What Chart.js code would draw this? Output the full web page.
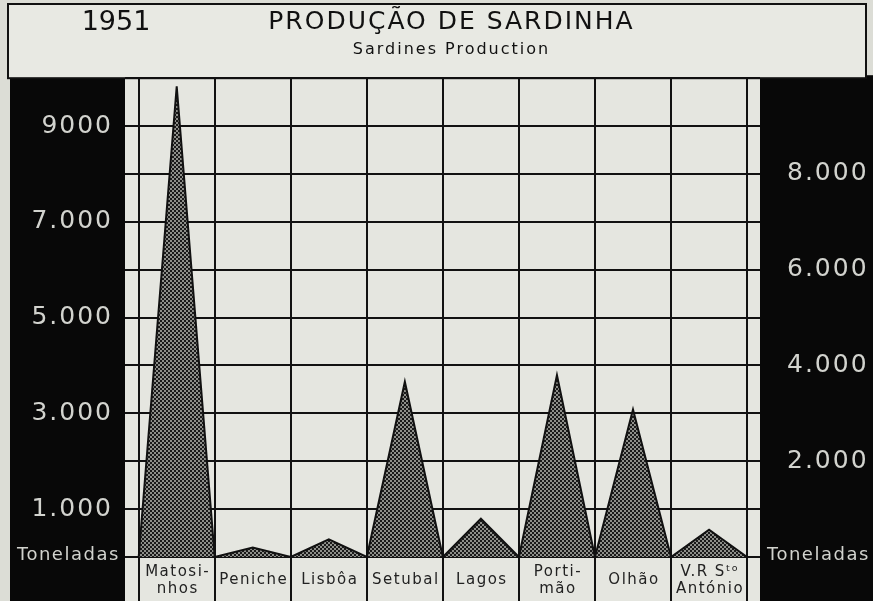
<!DOCTYPE html>
<html>
<head>
<meta charset="utf-8">
<script src="https://cdn.jsdelivr.net/npm/chart.js@4/dist/chart.umd.min.js"></script>
<style>
  html, body { margin: 0; padding: 0; background: #dcddd6; }
  #wrap { width: 873px; height: 601px; }
</style>
</head>
<body>
<div id="wrap"><canvas id="sardinha"></canvas></div>
<script>
// ports, in drawing order
const categories = [['Matosi-', 'nhos'], 'Peniche', 'Lisbôa', 'Setubal', 'Lagos', ['Porti-', 'mão'], 'Olhão', ['V.R Sᵗᵒ', 'António']]
// tonnes
const production = [9830, 200, 370, 3660, 800, 3800, 3080, 570]

const leftTickValues = [1000, 3000, 5000, 7000, 9000]
const leftTickLabels = ['1.000', '3.000', '5.000', '7.000', '9000']
const rightTickValues = [2000, 4000, 6000, 8000]
const rightTickLabels = ['2.000', '4.000', '6.000', '8.000']

const yearLabel = '1951'
const unitLabel = 'Toneladas'

const INK = '#111111'
const PAPER = '#e5e6e0'
const LIGHT_TXT = '#d2d3ce'

// each port is one column; peak in the middle, zero at the column edges
const columnEdges = categories.map((c, i) => i).concat(categories.length)
const peaks = []
production.forEach((v, i) => {
    peaks.push({x: i, y: 0})
    peaks.push({x: i + 0.5, y: v})
})
peaks.push({x: categories.length, y: 0})

// dotted screen like the printed hatch
function makeHatch(){
    const c = document.createElement('canvas')
    c.width = 4
    c.height = 4
    const g = c.getContext('2d')
    g.fillStyle = '#8e8f8a'
    g.fillRect(0, 0, 4, 4)
    g.fillStyle = '#1a1a1a'
    g.fillRect(0, 0, 2, 2)
    g.fillRect(2, 2, 2, 2)
    return g.createPattern(c, 'repeat')
}

const backdrop = {
    id: 'backdrop',
    beforeDraw(chart){
        const {ctx, chartArea: a, width, height} = chart
        ctx.save()
        ctx.fillStyle = '#dcddd6'
        ctx.fillRect(0, 0, width, height)
        // plot and label row
        ctx.fillStyle = PAPER
        ctx.fillRect(a.left, a.top, a.right - a.left, height - a.top)
        // black side panels
        ctx.fillStyle = '#080808'
        ctx.fillRect(10, a.top, a.left - 10, height - a.top)
        ctx.fillRect(a.right, a.top - 3, width - a.right, height - a.top + 3)
        // header box
        ctx.fillStyle = '#e8e9e3'
        ctx.fillRect(8, 4, 858, a.top - 4)
        ctx.strokeStyle = INK
        ctx.lineWidth = 2
        ctx.strokeRect(8, 4, 858, a.top - 4)
        ctx.restore()
        // the old lettering is spaced out
        ctx.letterSpacing = '2px'
    }
}

const labelsPlugin = {
    id: 'labelsPlugin',
    afterDraw(chart){
        const {ctx, chartArea: a, width, height, scales} = chart
        const x = scales.x
        ctx.save()
        ctx.textBaseline = 'middle'

        ctx.fillStyle = INK
        ctx.letterSpacing = '0px'
        ctx.font = '27px "DejaVu Sans"'
        ctx.textAlign = 'center'
        ctx.fillText(yearLabel, 116, 23)

        // port names under each column
        ctx.letterSpacing = '1.5px'
        ctx.font = '15px "DejaVu Sans"'
        ctx.fillStyle = '#222'
        const rowMid = (a.bottom + height) / 2 + 1
        categories.forEach((c, i) => {
            const cx = x.getPixelForValue(i + 0.5) + 1
            if(Array.isArray(c)){
                ctx.fillText(c[0], cx, rowMid - 8)
                ctx.fillText(c[1], cx, rowMid + 9)
            }else{
                ctx.fillText(c, cx, rowMid)
            }
        })

        // units on both black panels
        ctx.fillStyle = LIGHT_TXT
        ctx.letterSpacing = '1.5px'
        ctx.font = '18px "DejaVu Sans"'
        ctx.textAlign = 'left'
        ctx.fillText(unitLabel, 17, a.bottom - 2)
        ctx.fillText(unitLabel, a.right + 7, a.bottom - 2)
        ctx.restore()
        ctx.letterSpacing = '0px'
    }
}

const ctx = document.getElementById('sardinha').getContext('2d')

new Chart(ctx, {
    type: 'line',
    data: {
        datasets: [{
            data: peaks,
            borderColor: INK,
            borderWidth: 2,
            backgroundColor: makeHatch(),
            fill: 'origin',
            tension: 0,
            pointRadius: 0,
            xAxisID: 'x',
            yAxisID: 'y'
        }]
    },
    options: {
        responsive: true,
        maintainAspectRatio: false,
        animation: false,
        // extra left padding nudges the centred title right, the left axis is narrowed to match
        layout: {padding: {left: 30, right: 0, top: 0, bottom: 0}},
        plugins: {
            legend: {display: false},
            tooltip: {enabled: false},
            title: {
                display: true,
                text: 'PRODUÇÃO DE SARDINHA',
                color: INK,
                font: {family: '"DejaVu Sans"', size: 25, weight: 'normal'},
                padding: {top: 7, bottom: 0}
            },
            subtitle: {
                display: true,
                text: 'Sardines Production',
                color: INK,
                font: {family: '"DejaVu Sans"', size: 16},
                padding: {top: 3, bottom: 19}
            }
        },
        scales: {
            x: {
                type: 'linear',
                min: -0.18,
                max: 8.17,
                afterBuildTicks: s => { s.ticks = columnEdges.map(v => ({value: v})) },
                ticks: {display: false},
                grid: {color: INK, lineWidth: 2, drawTicks: true, tickLength: 44, tickColor: INK},
                border: {display: false}
            },
            y: {
                type: 'linear',
                position: 'left',
                min: 0,
                max: 10000,
                afterFit: s => { s.width = 95 },
                ticks: {
                    stepSize: 1000,
                    autoSkip: false,
                    padding: 12,
                    color: LIGHT_TXT,
                    font: {family: '"DejaVu Sans"', size: 25},
                    callback: v => {
                        const k = leftTickValues.indexOf(v)
                        return k >= 0 ? leftTickLabels[k] : ''
                    }
                },
                grid: {color: INK, lineWidth: 2, drawTicks: false},
                border: {display: false}
            },
            y2: {
                type: 'linear',
                position: 'right',
                min: 0,
                max: 10000,
                afterFit: s => { s.width = 113 },
                ticks: {
                    stepSize: 1000,
                    autoSkip: false,
                    padding: 19,
                    color: LIGHT_TXT,
                    font: {family: '"DejaVu Sans"', size: 25},
                    callback: v => {
                        const k = rightTickValues.indexOf(v)
                        return k >= 0 ? rightTickLabels[k] : ''
                    }
                },
                grid: {display: false},
                border: {display: false}
            }
        }
    },
    plugins: [backdrop, labelsPlugin]
})
</script>
</body>
</html>
